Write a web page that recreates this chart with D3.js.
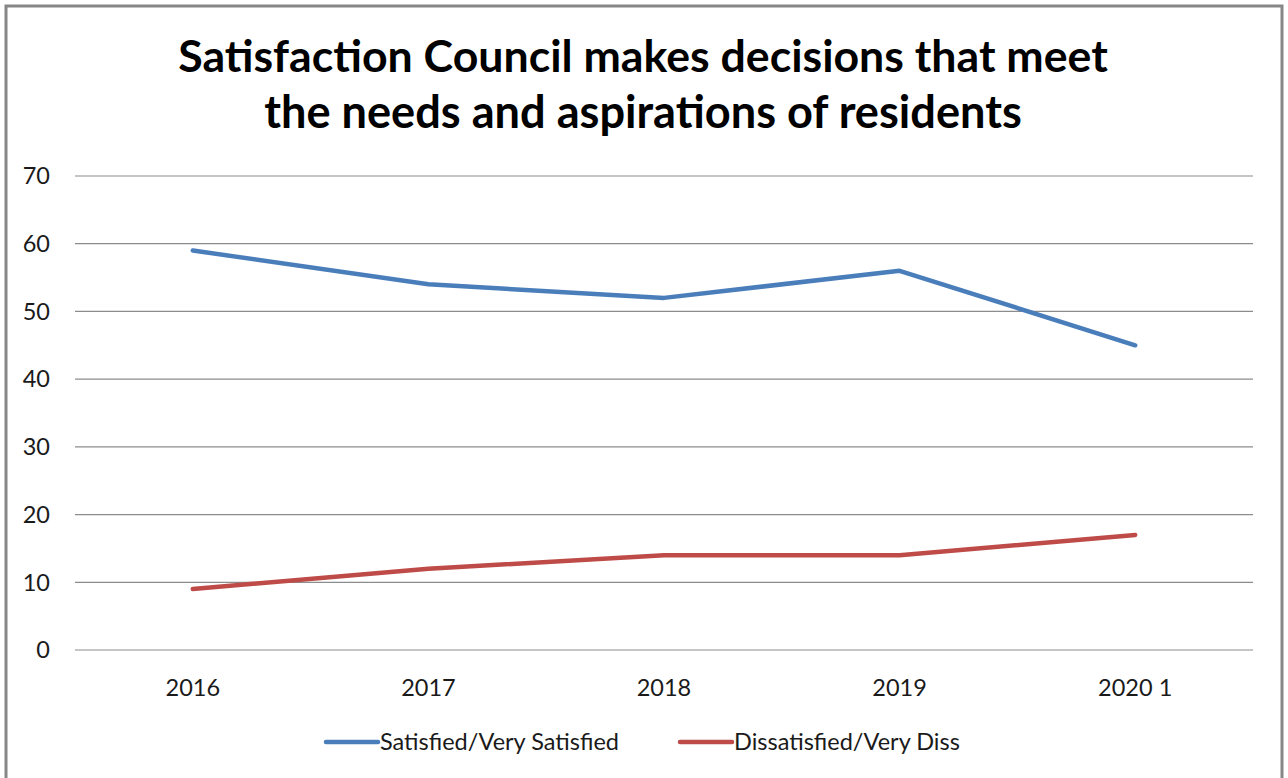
<!DOCTYPE html>
<html>
<head>
<meta charset="utf-8">
<script src="https://cdn.jsdelivr.net/npm/d3@7"></script>
<style>
  body { margin: 0; background: #fff; }
  svg { display: block; }
</style>
</head>
<body>
<svg id="chart"></svg>
<script>
width = 1288
height = 778

// data
years = ["2016", "2017", "2018", "2019", "2020 1"]
satisfied = [59, 54, 52, 56, 45]
dissatisfied = [9, 12, 14, 14, 17]
seriesNames = ["Satisfied/Very Satisfied", "Dissatisfied/Very Diss"]
seriesColors = ["#4a7ebb", "#be4b48"]
yTicks = [0, 10, 20, 30, 40, 50, 60, 70]
titleLines = ["Satisfaction Council makes decisions that meet", "the needs and aspirations of residents"]

const font = "Lato, 'Open Sans', sans-serif";
const labelSize = 23.5;

const svg = d3.select("#chart")
    .attr("width", width)
    .attr("height", height);

svg.append("rect")
    .attr("x", 6).attr("y", 6)
    .attr("width", 1276).attr("height", 820)
    .attr("fill", "#fff")
    .attr("stroke", "#878787")
    .attr("stroke-width", 3);

const x = d3.scaleBand()
    .domain(years)
    .range([75, 1253]);

const y = d3.scaleLinear()
    .domain([0, 70])
    .range([650, 176]);

// gridlines
svg.append("g")
  .selectAll("line")
  .data(yTicks)
  .join("line")
    .attr("x1", 75).attr("x2", 1253)
    .attr("y1", function (d) { return y(d) })
    .attr("y2", function (d) { return y(d) })
    .attr("stroke", "#8c8c8c")
    .attr("stroke-width", 1.2);

// y tick labels
svg.append("g")
  .selectAll("text")
  .data(yTicks)
  .join("text")
    .attr("x", 50)
    .attr("y", function (d) { return y(d) })
    .attr("dy", "0.35em")
    .attr("text-anchor", "end")
    .attr("font-family", font)
    .attr("font-size", labelSize)
    .attr("fill", "#1a1a1a")
    .text(function (d) { return d });

// x category labels
svg.append("g")
  .selectAll("text")
  .data(years)
  .join("text")
    .attr("x", function (d) { return x(d) + x.bandwidth() / 2 })
    .attr("y", 688)
    .attr("dy", "0.35em")
    .attr("text-anchor", "middle")
    .attr("font-family", font)
    .attr("font-size", labelSize)
    .attr("fill", "#1a1a1a")
    .text(function (d) { return d });

// lines
const line = d3.line()
    .x(function (d, i) { return x(years[i]) + x.bandwidth() / 2 })
    .y(function (d) { return y(d) });

[satisfied, dissatisfied].forEach(function (values, i) {
  svg.append("path")
      .datum(values)
      .attr("fill", "none")
      .attr("stroke", seriesColors[i])
      .attr("stroke-width", 4.5)
      .attr("stroke-linecap", "round")
      .attr("stroke-linejoin", "round")
      .attr("d", line);
});

// title, sized to the reference widths
const titleWidths = [930, 758];
titleLines.forEach(function (t, i) {
  const el = svg.append("text")
      .attr("x", 643)
      .attr("y", [72, 128][i])
      .attr("text-anchor", "middle")
      .attr("font-family", font)
      .attr("font-weight", "bold")
      .attr("font-size", 40)
      .attr("fill", "#000")
      .text(t);
  const w = el.node().getComputedTextLength();
  el.attr("font-size", 40 * titleWidths[i] / w);
});

// legend
const legendX = [326, 680];
const legend = svg.append("g")
  .selectAll("g")
  .data(seriesNames)
  .join("g")
    .attr("transform", function (d, i) { return "translate(" + legendX[i] + ",742)" });

legend.append("line")
    .attr("x1", 0).attr("x2", 52)
    .attr("stroke", function (d, i) { return seriesColors[i] })
    .attr("stroke-width", 4.5)
    .attr("stroke-linecap", "round");

legend.append("text")
    .attr("x", 54)
    .attr("dy", "0.35em")
    .attr("font-family", font)
    .attr("font-size", labelSize)
    .attr("fill", "#1a1a1a")
    .text(function (d) { return d });
</script>
</body>
</html>
